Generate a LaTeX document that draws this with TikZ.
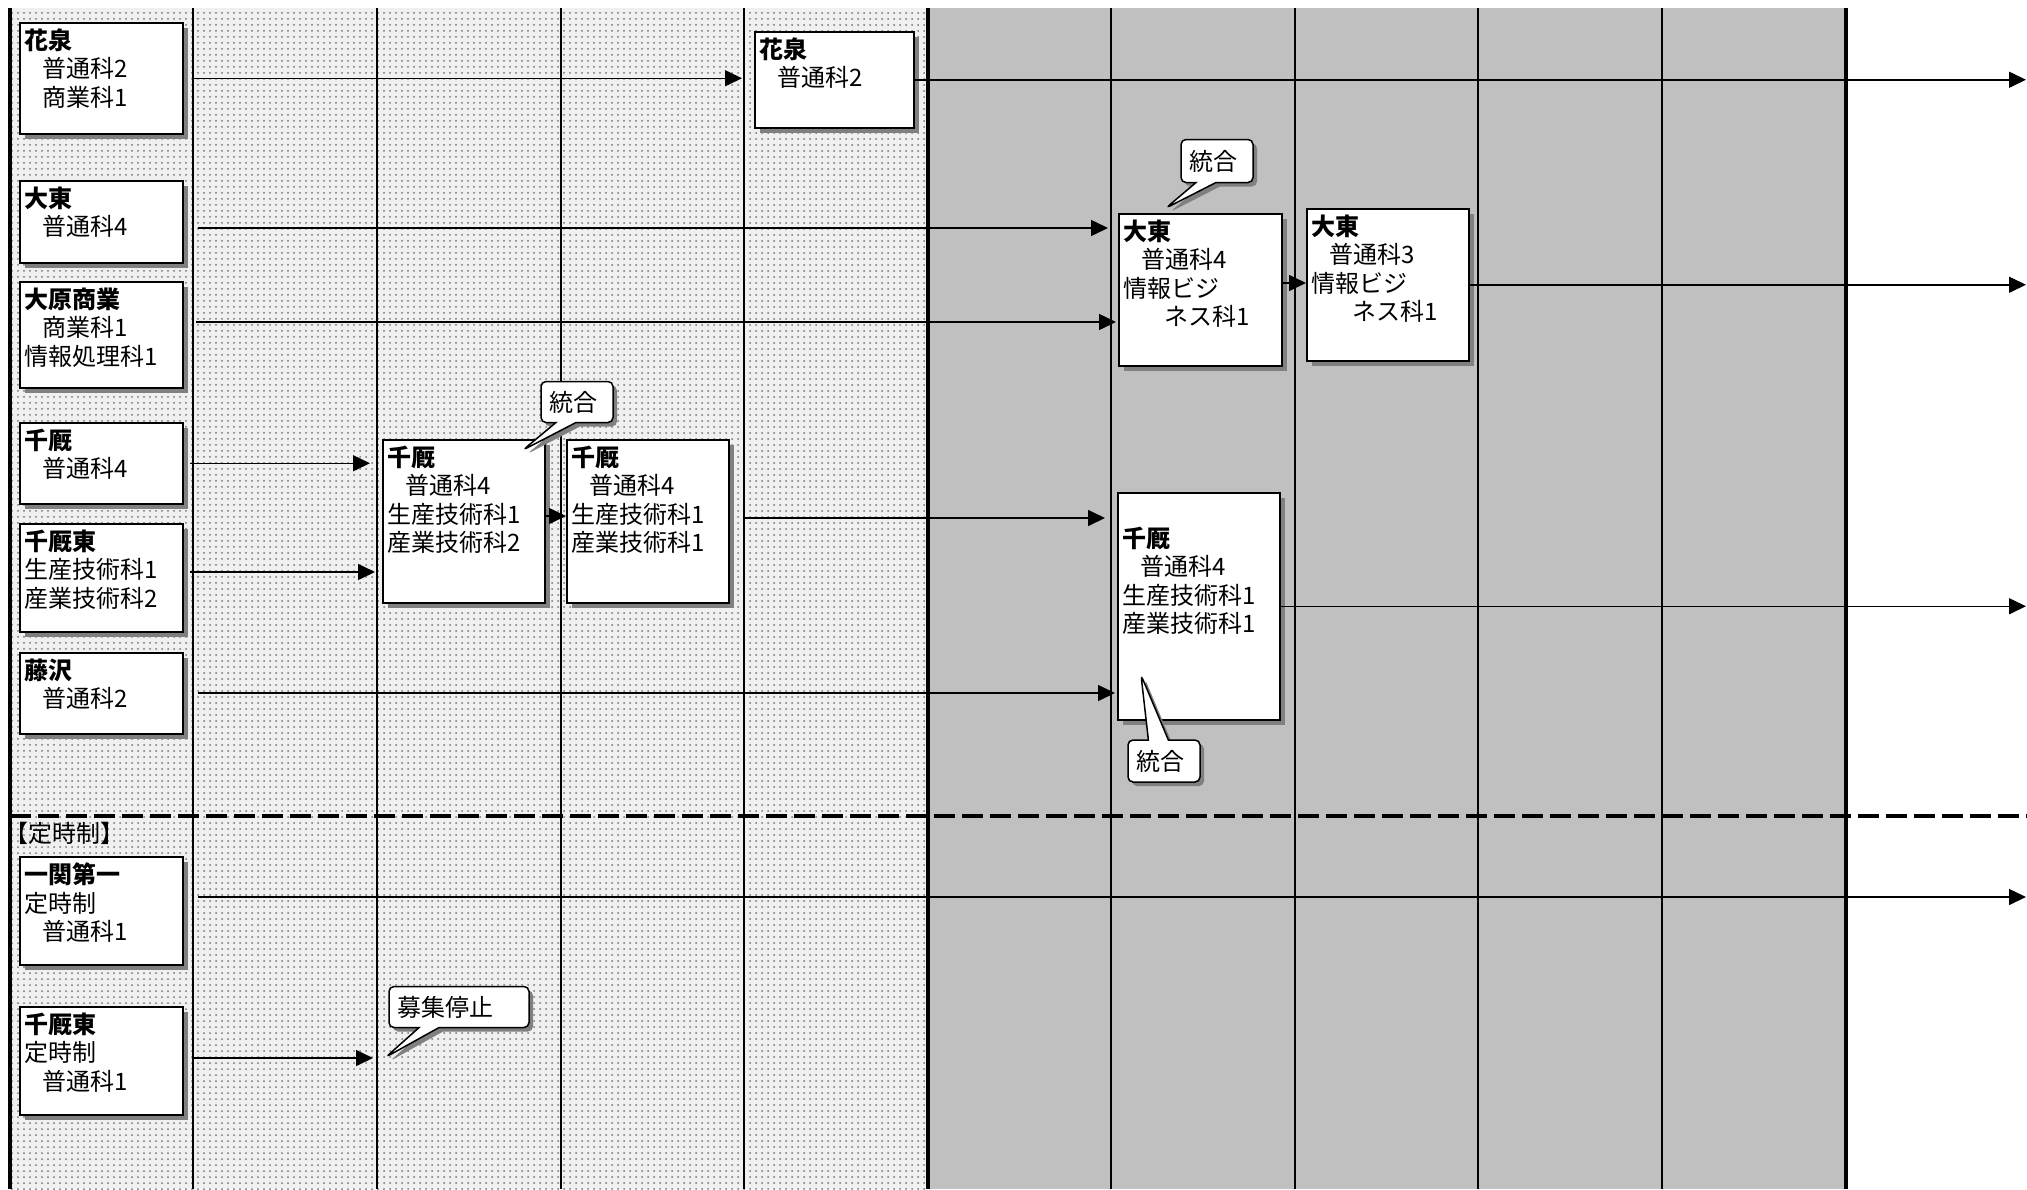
\documentclass[tikz,border=0pt]{standalone}
\usepackage{fontspec}
\setmainfont{Noto Sans CJK JP}
\usepackage{tikz}
\usetikzlibrary{arrows.meta,shapes.callouts,shadows,patterns}
\definecolor{plangray}{RGB}{192,192,192}
\newcommand{\indt}{\hspace*{0.75em}}
\newcommand{\schoolpar}[3]{\parbox[t][#2][t]{#1}{\fontsize{12}{14.25}\selectfont #3}}
\tikzset{
	school/.style={draw=black, line width=0.75pt, fill=white, anchor=north west, inner xsep=2.5pt, inner ysep=3pt,
		drop shadow={shadow xshift=2.75pt, shadow yshift=-2.75pt, fill=black!50, opacity=1}},
	remark/.style={rectangle callout, draw=black, line width=0.75pt, fill=white, rounded corners=2.5pt,
		callout pointer width=10pt, inner xsep=4pt, inner ysep=0pt, align=left, font=\fontsize{12}{14.25}\selectfont,
		drop shadow={shadow xshift=2pt, shadow yshift=-2pt, fill=black!50, opacity=1}},
	flow/.style={line width=0.75pt, -{Triangle[length=8.5pt,width=8pt]}}
}

\begin{document}
\begin{tikzpicture}[x=0.5pt, y=-0.5pt]
				\useasboundingbox (0,0) rectangle (2027,1189);
				\fill[black!6] (10,8) rectangle (928,1189);
				\fill[pattern=dots, pattern color=black!55] (10,8) rectangle (928,1189);
				\fill[plangray] (928,8) rectangle (1846,1189);
				\foreach \x in {193,377,561,744,1111,1295,1478,1662}
					\draw[line width=0.6pt] (\x,8) -- (\x,1189);
				\foreach \x in {10,928,1846}
					\draw[line width=1.6pt] (\x,8) -- (\x,1189);
				\draw[line width=2pt, dash pattern=on 10.5pt off 3.5pt] (10,816) -- (2027,816);
				\node[anchor=west, inner sep=0pt, font=\fontsize{12}{14.25}\selectfont] (night) at (4,833) {【定時制】};
				\coordinate (edge) at (2026,0);
				\coordinate (halt) at (373,1058);

				\node[school] (hanaL) at (19,22) {\schoolpar{76.5pt}{49.5pt}{\textbf{花泉}\\\indt 普通科2\\\indt 商業科1}};
				\node[school] (daitoL) at (19,180) {\schoolpar{76.5pt}{35pt}{\textbf{大東}\\\indt 普通科4}};
				\node[school] (oharaL) at (19,281) {\schoolpar{76.5pt}{47pt}{\textbf{大原商業}\\\indt 商業科1\\情報処理科1}};
				\node[school] (chiL) at (19,422) {\schoolpar{76.5pt}{34.5pt}{\textbf{千厩}\\\indt 普通科4}};
				\node[school] (chiEL) at (19,523) {\schoolpar{76.5pt}{48pt}{\textbf{千厩東}\\生産技術科1\\産業技術科2}};
				\node[school] (fujiL) at (19,652) {\schoolpar{76.5pt}{34.5pt}{\textbf{藤沢}\\\indt 普通科2}};
				\node[school] (ichiL) at (19,856) {\schoolpar{76.5pt}{48pt}{\textbf{一関第一}\\定時制\\\indt 普通科1}};
				\node[school] (chiETL) at (19,1006) {\schoolpar{76.5pt}{48pt}{\textbf{千厩東}\\定時制\\\indt 普通科1}};
				\node[school] (chiA) at (382,439) {\schoolpar{76pt}{75.5pt}{\textbf{千厩}\\\indt 普通科4\\生産技術科1\\産業技術科2}};
				\node[school] (chiB) at (566,439) {\schoolpar{76pt}{75.5pt}{\textbf{千厩}\\\indt 普通科4\\生産技術科1\\産業技術科1}};
				\node[school] (hanaR) at (754,31) {\schoolpar{74.5pt}{42pt}{\textbf{花泉}\\\indt 普通科2}};
				\node[school] (daitoA) at (1118,213) {\schoolpar{76.5pt}{70pt}{\textbf{大東}\\\indt 普通科4\\情報ビジ\\\hspace*{1.7em}ネス科1}};
				\node[school] (daitoB) at (1306,208) {\schoolpar{76pt}{70pt}{\textbf{大東}\\\indt 普通科3\\情報ビジ\\\hspace*{1.7em}ネス科1}};
				\node[school] (chiC) at (1117,492) {\schoolpar{76pt}{107.5pt}{\vspace*{14pt}\textbf{千厩}\\\indt 普通科4\\生産技術科1\\産業技術科1}};

				\draw[flow, shorten <=4.5pt, shorten >=6pt] (hanaL.east) -- (hanaL.east -| hanaR.west);
				\draw[flow] (hanaR.east) -- (hanaR.east -| edge);
				\draw[flow, shorten <=7pt, shorten >=5pt] (daitoL.east |- 0,228) -- (daitoA.west |- 0,228);
				\draw[flow, shorten <=6pt, shorten >=1pt] (oharaL.east |- 0,322) -- (daitoA.west |- 0,322);
				\draw[flow] (daitoA.east |- 0,283) -- (daitoB.west |- 0,283);
				\draw[flow] (daitoB.east) -- (daitoB.east -| edge);
				\draw[flow, shorten <=3pt, shorten >=6pt] (chiL.east) -- (chiL.east -| chiA.west);
				\draw[flow, shorten <=3pt, shorten >=3.5pt] (chiEL.east |- 0,572) -- (chiA.west |- 0,572);
				\draw[flow] (chiA.east |- 0,516) -- (chiB.west |- 0,516);
				\draw[flow, shorten <=7.5pt, shorten >=6pt] (chiB.east |- 0,518) -- (chiC.west |- 0,518);
				\draw[flow, shorten <=7pt, shorten >=1pt] (fujiL.east |- 0,693) -- (chiC.west |- 0,693);
				\draw[flow] (chiC.east) -- (chiC.east -| edge);
				\draw[flow, shorten <=7pt] (ichiL.east |- 0,897) -- (edge |- 0,897);
				\draw[flow, shorten <=5pt] (chiETL.east |- 0,1058) -- (halt);

				\node[remark, text width=28pt, minimum height=20.5pt, callout absolute pointer={(523,450)}] (mergeA) at (577,402) {統合};
				\node[remark, text width=28pt, minimum height=21.5pt, callout absolute pointer={(1166,208)}] (mergeB) at (1217,161) {統合};
				\node[remark, text width=28pt, minimum height=21pt, callout absolute pointer={(1141,675)}] (mergeC) at (1164,761) {統合};
				\node[remark, text width=62pt, minimum height=20.5pt, callout absolute pointer={(386,1057)}] (halted) at (459,1007) {募集停止};
			\end{tikzpicture}
\end{document}
